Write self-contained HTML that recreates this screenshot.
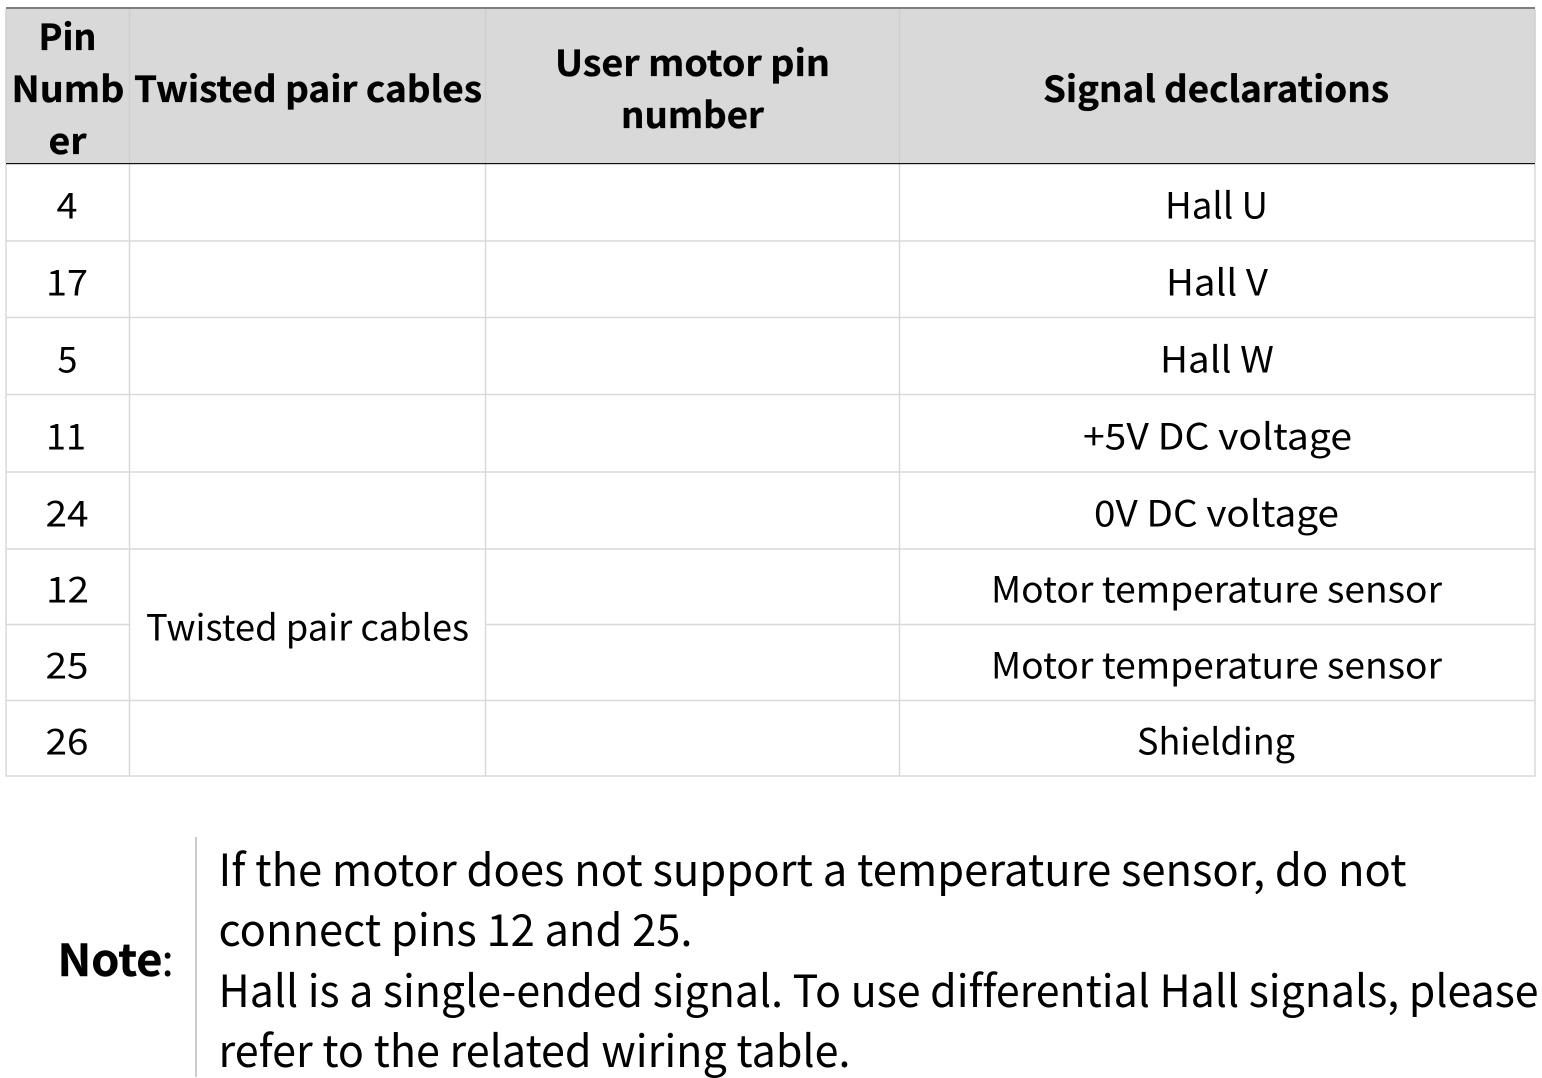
<!DOCTYPE html>
<html><head><meta charset="utf-8"><style>
html,body{margin:0;padding:0;background:#fff;width:1542px;height:1078px;overflow:hidden}
svg{display:block}
text{font-family:"Noto Sans CJK JP","Liberation Sans",sans-serif;fill:#000;font-variant-ligatures:none}
.h{font-weight:700;font-size:36px;stroke:#000;stroke-width:.35px}
.b{font-size:36px}
.n{font-size:44px}
</style></head><body>
<svg width="1542" height="1078" viewBox="0 0 1542 1078" xmlns="http://www.w3.org/2000/svg">
<rect x="6" y="8" width="1529" height="155" fill="#d9d9d9"/>
<rect x="6" y="7" width="1529" height="2" fill="#7f7f7f"/>
<g stroke="#d9d9d9" stroke-width="1.5" fill="none">
<path d="M6 241H1535M6 317.5H1535M6 394.5H1535M6 472H1535M6 549H1535M6 624.5H130M486 624.5H1535M6 700.5H1535M6 776H1535"/>
<path d="M6 164V776.5M1535 164V776.5M129.5 164V776.5M485.5 164V776.5M899.5 164V776.5"/>
</g>
<g stroke="#cfcfcf" stroke-width="1.5" fill="none"><path d="M6 9V163M129.5 9V163M485.5 9V163M899.5 9V163M1535 9V163"/></g>
<rect x="6" y="163" width="1529" height="1.2" fill="#111"/>

<text class="h" x="38.5" y="50" textLength="58" lengthAdjust="spacingAndGlyphs">Pin</text>
<text class="h" x="11.5" y="102" textLength="113" lengthAdjust="spacingAndGlyphs">Numb</text>
<text class="h" x="48.5" y="154" textLength="38" lengthAdjust="spacingAndGlyphs">er</text>
<text class="h" x="134" y="102" textLength="348" lengthAdjust="spacingAndGlyphs">Twisted pair cables</text>
<text class="h" x="555" y="76" textLength="275" lengthAdjust="spacingAndGlyphs">User motor pin</text>
<text class="h" x="621" y="128" textLength="143" lengthAdjust="spacingAndGlyphs">number</text>
<text class="h" x="1043" y="102" textLength="346" lengthAdjust="spacingAndGlyphs">Signal declarations</text>

<text class="b" x="56.5" y="218.5" textLength="21" lengthAdjust="spacingAndGlyphs">4</text>
<text class="b" x="46" y="295.5" textLength="42" lengthAdjust="spacingAndGlyphs">17</text>
<text class="b" x="57.5" y="372.5" textLength="20" lengthAdjust="spacingAndGlyphs">5</text>
<text class="b" x="46" y="449.5" textLength="40" lengthAdjust="spacingAndGlyphs">11</text>
<text class="b" x="45.5" y="526.5" textLength="43" lengthAdjust="spacingAndGlyphs">24</text>
<text class="b" x="46" y="602.5" textLength="43" lengthAdjust="spacingAndGlyphs">12</text>
<text class="b" x="45.5" y="678.5" textLength="43" lengthAdjust="spacingAndGlyphs">25</text>
<text class="b" x="45.5" y="754.5" textLength="43" lengthAdjust="spacingAndGlyphs">26</text>

<text class="b" x="146" y="640.5" textLength="323" lengthAdjust="spacingAndGlyphs">Twisted pair cables</text>

<text class="b" x="1165" y="218.5" textLength="103" lengthAdjust="spacingAndGlyphs">Hall U</text>
<text class="b" x="1166" y="295.5" textLength="102" lengthAdjust="spacingAndGlyphs">Hall V</text>
<text class="b" x="1160" y="372.5" textLength="114" lengthAdjust="spacingAndGlyphs">Hall W</text>
<text class="b" x="1083" y="449.5" textLength="269" lengthAdjust="spacingAndGlyphs">+5V DC voltage</text>
<text class="b" x="1094" y="526.5" textLength="245" lengthAdjust="spacingAndGlyphs">0V DC voltage</text>
<text class="b" x="991" y="602.5" textLength="451" lengthAdjust="spacingAndGlyphs">Motor temperature sensor</text>
<text class="b" x="991" y="678.5" textLength="451" lengthAdjust="spacingAndGlyphs">Motor temperature sensor</text>
<text class="b" x="1137" y="754.5" textLength="158" lengthAdjust="spacingAndGlyphs">Shielding</text>

<text class="n" x="57.5" y="976" textLength="105" lengthAdjust="spacingAndGlyphs" style="font-weight:700;stroke:#000;stroke-width:.4px">Note</text>
<text class="n" x="161.5" y="976">:</text>
<rect x="195" y="837" width="2" height="240" fill="#cccccc"/>
<text class="n" x="218.5" y="886" textLength="1188" lengthAdjust="spacingAndGlyphs">If the motor does not support a temperature sensor, do not</text>
<text class="n" x="218.5" y="946" textLength="474" lengthAdjust="spacingAndGlyphs">connect pins 12 and 25.</text>
<text class="n" x="218.5" y="1007" textLength="1320" lengthAdjust="spacingAndGlyphs">Hall is a single-ended signal. To use differential Hall signals, please</text>
<text class="n" x="218.5" y="1067" textLength="632" lengthAdjust="spacingAndGlyphs">refer to the related wiring table.</text>
</svg>
</body></html>
